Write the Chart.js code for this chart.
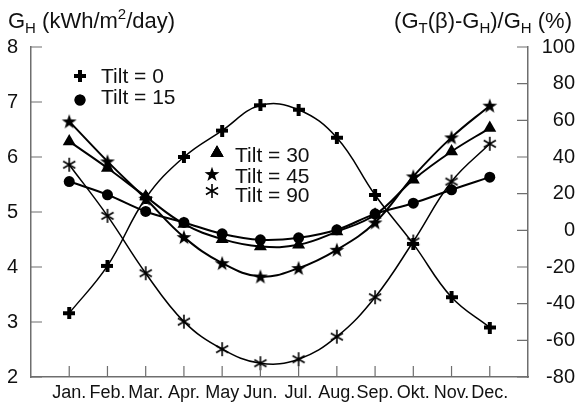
<!DOCTYPE html>
<html>
<head>
<meta charset="utf-8">
<script src="https://cdn.jsdelivr.net/npm/chart.js@4.4.1/dist/chart.umd.min.js"></script>
<style>
  html, body { margin: 0; padding: 0; background: #fff; }
  #wrap { width: 575px; height: 407px; }
</style>
</head>
<body>
<div id="wrap"><canvas id="myChart" width="575" height="407"></canvas></div>
<script>
// month labels on the x axis (Jan = 1 ... Dec = 12)
const months = ['Jan.', 'Feb.', 'Mar.', 'Apr.', 'May', 'Jun.', 'Jul.', 'Aug.', 'Sep.', 'Okt.', 'Nov.', 'Dec.'];

// G_H, kWh/m2/day (left axis)
const tilt0 = [3.16, 4.02, 5.25, 6.0, 6.48, 6.94, 6.86, 6.35, 5.31, 4.42, 3.45, 2.90];
// (GT(beta) - GH) / GH in % (right axis)
const tilt15 = [26.6, 19.4, 10.3, 4.3, -1.9, -5.2, -4.1, 0.3, 9.0, 14.8, 22.1, 29.0];
const tilt30 = [48.5, 34.0, 18.4, 3.5, -4.8, -8.8, -7.9, -0.7, 8.5, 27.6, 43.0, 55.8];
const tilt45 = [59.4, 37.6, 17.2, -3.7, -17.9, -25.2, -20.6, -10.6, 4.3, 29.4, 50.7, 68.0];
const tilt90 = [35.8, 7.9, -23.4, -49.8, -64.8, -72.5, -70.3, -58.0, -36.5, -6.1, 26.6, 47.2];

const legendLabels = ['Tilt = 0', 'Tilt = 15', 'Tilt = 30', 'Tilt = 45', 'Tilt = 90'];

const FONT = "'Liberation Sans', Arial, sans-serif";
const INK = '#111';
const AXIS = '#6e6e6e';

function pts(arr) {
    return arr.map((v, i) => ({ x: i + 1, y: v }));
}

// marker images
function makePlus() {
    const c = document.createElement('canvas');
    c.width = 12; c.height = 12;
    const g = c.getContext('2d');
    g.fillStyle = '#000';
    g.fillRect(0, 4, 12, 4);
    g.fillRect(4, 0, 4, 12);
    return c;
}
function makeStar() {
    const c = document.createElement('canvas');
    c.width = 16; c.height = 16;
    const g = c.getContext('2d');
    g.fillStyle = '#000';
    g.beginPath();
    for (let k = 0; k < 10; k++) {
        const r = k % 2 === 0 ? 7.8 : 3.1;
        const a = -Math.PI / 2 + k * Math.PI / 5;
        const px = 8 + r * Math.cos(a), py = 8.6 + r * Math.sin(a);
        if (k === 0) g.moveTo(px, py); else g.lineTo(px, py);
    }
    g.closePath();
    g.fill();
    return c;
}
function makeAsterisk() {
    const c = document.createElement('canvas');
    c.width = 16; c.height = 16;
    const g = c.getContext('2d');
    g.strokeStyle = '#000';
    g.lineWidth = 1.6;
    g.lineCap = 'butt';
    g.beginPath();
    [90, 30, -30].forEach(d => {
        const a = d * Math.PI / 180;
        g.moveTo(8 + 7 * Math.cos(a), 8 - 7 * Math.sin(a));
        g.lineTo(8 - 7 * Math.cos(a), 8 + 7 * Math.sin(a));
    });
    g.stroke();
    return c;
}

const plusImg = makePlus();
const starImg = makeStar();
const astImg = makeAsterisk();

const styles = [
    { pointStyle: plusImg, radius: 6 },
    { pointStyle: 'circle', radius: 5.5 },
    { pointStyle: 'triangle', radius: 7.5 },
    { pointStyle: starImg, radius: 7 },
    { pointStyle: astImg, radius: 7 }
];

function line(label, data, axis, st, width, order) {
    return {
        label: label,
        data: pts(data),
        yAxisID: axis,
        borderColor: '#000',
        borderWidth: width,
        backgroundColor: '#000',
        pointStyle: st.pointStyle,
        pointRadius: st.radius,
        pointBorderWidth: 0,
        pointBackgroundColor: '#000',
        pointBorderColor: '#000',
        tension: 0.4,
        order: order
    };
}

// ticks pointing into the plot
const inwardTicks = {
    id: 'inwardTicks',
    afterDraw(chart) {
        const ctx = chart.ctx;
        const len = 11;
        ctx.save();
        ctx.strokeStyle = AXIS;
        ctx.lineWidth = 1.2;
        ctx.beginPath();
        const xs = chart.scales.x;
        xs.ticks.forEach((t, i) => {
            if (t.value < 1 || t.value > 12) return;
            const px = xs.getPixelForTick(i);
            ctx.moveTo(px, xs.top);
            ctx.lineTo(px, xs.top - len);
        });
        const ys = chart.scales.y;
        ys.ticks.forEach((t, i) => {
            const py = ys.getPixelForTick(i);
            ctx.moveTo(ys.right, py);
            ctx.lineTo(ys.right + len, py);
        });
        const yr = chart.scales.y1;
        yr.ticks.forEach((t, i) => {
            const py = yr.getPixelForTick(i);
            ctx.moveTo(yr.left, py);
            ctx.lineTo(yr.left - len, py);
        });
        ctx.stroke();
        ctx.restore();
    }
};

function drawRich(ctx, segs, x, y, alignRight) {
    let total = 0;
    segs.forEach(s => {
        ctx.font = s.s + 'px ' + FONT;
        s.w = ctx.measureText(s.t).width;
        total += s.w;
    });
    let cx = alignRight ? x - total : x;
    segs.forEach(s => {
        ctx.font = s.s + 'px ' + FONT;
        ctx.fillText(s.t, cx, y + (s.dy || 0));
        cx += s.w;
    });
}

const titles = {
    id: 'titles',
    afterDraw(chart) {
        const ctx = chart.ctx;
        ctx.save();
        ctx.fillStyle = INK;
        ctx.textBaseline = 'alphabetic';
        ctx.textAlign = 'left';
        drawRich(ctx, [
            { t: 'G', s: 22 }, { t: 'H', s: 15, dy: 5 }, { t: ' (kWh/m', s: 22 },
            { t: '2', s: 15, dy: -9 }, { t: '/day)', s: 22 }
        ], 8, 28, false);
        drawRich(ctx, [
            { t: '(G', s: 22 }, { t: 'T', s: 15, dy: 5 }, { t: '(\u03B2)-G', s: 22 },
            { t: 'H', s: 15, dy: 5 }, { t: ')/G', s: 22 }, { t: 'H', s: 15, dy: 5 },
            { t: ' (%)', s: 22 }
        ], 572, 28, true);
        ctx.restore();
    }
};

const legendBox = {
    id: 'legendBox',
    afterDraw(chart) {
        const ctx = chart.ctx;
        const marks = [[80, 76], [80, 100], [217, 153], [212, 174], [212, 191]];
        const texts = [[101, 83], [101, 104], [235, 162], [235, 183], [235, 202]];
        ctx.save();
        ctx.fillStyle = INK;
        ctx.font = '21px ' + FONT;
        ctx.textAlign = 'left';
        ctx.textBaseline = 'alphabetic';
        legendLabels.forEach((lab, i) => {
            ctx.fillText(lab, texts[i][0], texts[i][1]);
            ctx.fillStyle = '#000';
            ctx.strokeStyle = '#000';
            Chart.helpers.drawPoint(ctx, {
                pointStyle: styles[i].pointStyle,
                radius: styles[i].radius,
                rotation: 0,
                borderWidth: 0
            }, marks[i][0], marks[i][1]);
            ctx.fill();
            ctx.fillStyle = INK;
        });
        ctx.restore();
    }
};

function drawChart() {
    const ctx = document.getElementById('myChart').getContext('2d');
    new Chart(ctx, {
        type: 'line',
        data: {
            datasets: [
                line(legendLabels[0], tilt0, 'y', styles[0], 1.5, 5),
                line(legendLabels[1], tilt15, 'y1', styles[1], 2, 2),
                line(legendLabels[2], tilt30, 'y1', styles[2], 2, 1),
                line(legendLabels[3], tilt45, 'y1', styles[3], 2, 3),
                line(legendLabels[4], tilt90, 'y1', styles[4], 1.5, 4)
            ]
        },
        options: {
            responsive: false,
            animation: false,
            layout: { padding: { top: 47, left: 0, right: 0, bottom: 0 } },
            plugins: { legend: { display: false }, tooltip: { enabled: false } },
            scales: {
                x: {
                    type: 'linear',
                    min: 0,
                    max: 13,
                    afterFit: s => { s.height = 30; },
                    grid: { display: true, drawOnChartArea: false, drawTicks: false },
                    border: { display: true, color: AXIS, width: 1.5 },
                    ticks: {
                        stepSize: 1,
                        autoSkip: false,
                        maxRotation: 0,
                        minRotation: 0,
                        padding: 5,
                        color: INK,
                        font: { family: FONT, size: 18 },
                        callback: v => (v >= 1 && v <= 12 ? months[v - 1] : '')
                    }
                },
                y: {
                    position: 'left',
                    min: 2,
                    max: 8,
                    afterFit: s => { s.width = 31; },
                    grid: { display: true, drawOnChartArea: false, drawTicks: false },
                    border: { display: true, color: AXIS, width: 1.5 },
                    ticks: {
                        stepSize: 1,
                        padding: 13,
                        color: INK,
                        font: { family: FONT, size: 20 }
                    }
                },
                y1: {
                    position: 'right',
                    min: -80,
                    max: 100,
                    afterFit: s => { s.width = 47; },
                    grid: { display: true, drawOnChartArea: false, drawTicks: false },
                    border: { display: true, color: AXIS, width: 1.5 },
                    ticks: {
                        stepSize: 20,
                        padding: 5,
                        crossAlign: 'far',
                        color: INK,
                        font: { family: FONT, size: 20 }
                    }
                }
            }
        },
        plugins: [inwardTicks, titles, legendBox]
    });
}

document.addEventListener('DOMContentLoaded', drawChart);
</script>
</body>
</html>
